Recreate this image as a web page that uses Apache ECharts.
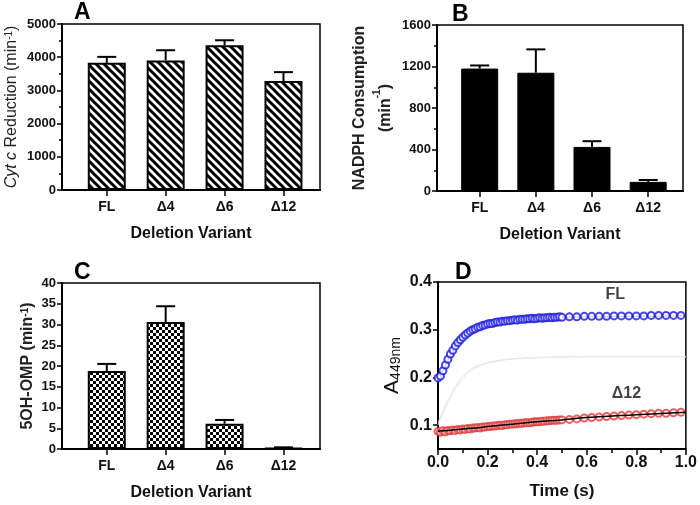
<!DOCTYPE html>
<html>
<head>
<meta charset="utf-8">
<script src="https://cdn.jsdelivr.net/npm/echarts@6/dist/echarts.min.js"></script>
<style>html,body{margin:0;padding:0;background:#fff}#c{width:700px;height:505px}</style>
</head>
<body>
<div id="c"></div>
<script>
// ---------- data ----------
const categories = ['FL', 'Δ4', 'Δ6', 'Δ12'];
const catPos = [1, 2, 3, 4];

const cytcMean = [3830, 3900, 4360, 3280];
const cytcErr = [180, 310, 150, 270];

const nadphMean = [1180, 1140, 425, 88];
const nadphErr = [30, 225, 55, 18];

const ohompMean = [18.8, 30.6, 6.1, 0.2];
const ohompErr = [1.7, 3.8, 0.9, 0.2];

const absTicks = [0.1, 0.2, 0.3, 0.4];

const tObs = [0.00,0.01,0.02,0.03,0.04,0.05,0.06,0.07,0.08,0.09,0.10,0.11,0.12,0.13,0.14,0.15,0.16,0.17,0.18,0.19,0.20,
  0.21,0.22,0.23,0.24,0.25,0.26,0.27,0.28,0.29,0.30,0.31,0.32,0.33,0.34,0.35,0.36,0.37,0.38,0.39,0.40,
  0.41,0.42,0.43,0.44,0.45,0.46,0.47,0.48,0.49,0.50,0.53,0.56,0.59,0.62,0.65,0.68,0.71,0.74,0.77,0.80,
  0.83,0.86,0.89,0.92,0.95,0.98];
const absFL = [0.199,0.203,0.214,0.226,0.238,0.249,0.257,0.266,0.273,0.279,0.284,0.289,0.293,0.297,0.300,0.302,0.305,0.306,0.309,0.310,0.312,
  0.313,0.313,0.315,0.316,0.316,0.318,0.318,0.319,0.319,0.320,0.321,0.320,0.322,0.322,0.322,0.323,0.323,0.324,0.323,0.324,
  0.325,0.324,0.325,0.325,0.326,0.325,0.326,0.326,0.327,0.326,0.327,0.327,0.328,0.328,0.328,0.328,0.329,0.329,0.329,0.329,
  0.329,0.330,0.330,0.330,0.330,0.330];
const absD12 = [0.087,0.085,0.088,0.086,0.089,0.088,0.090,0.089,0.091,0.090,0.092,0.091,0.093,0.092,0.094,0.094,0.095,0.094,0.096,0.096,0.097,
  0.097,0.098,0.098,0.099,0.100,0.099,0.101,0.101,0.102,0.102,0.103,0.103,0.104,0.104,0.105,0.105,0.105,0.106,0.107,0.107,
  0.107,0.108,0.108,0.109,0.109,0.110,0.110,0.110,0.111,0.111,0.112,0.113,0.115,0.116,0.117,0.118,0.119,0.120,0.121,0.122,
  0.123,0.124,0.125,0.125,0.126,0.127];

const tFit = [0, 0.02, 0.04, 0.06, 0.08, 0.10, 0.12, 0.15, 0.20, 0.25, 0.30, 0.40, 0.50, 0.60, 0.80, 1.00];
const fitFL = [0.200, 0.214, 0.237, 0.257, 0.273, 0.285, 0.294, 0.303, 0.312, 0.317, 0.320, 0.324, 0.326, 0.327, 0.328, 0.329];
const fitD12 = [0.087, 0.088, 0.089, 0.090, 0.091, 0.092, 0.093, 0.094, 0.097, 0.100, 0.102, 0.107, 0.111, 0.116, 0.122, 0.127];
const greyA = [0.105, 0.130, 0.152, 0.172, 0.189, 0.202, 0.212, 0.222, 0.231, 0.236, 0.239, 0.242, 0.243, 0.244, 0.244, 0.244];
const greyB = [0.100, 0.125, 0.147, 0.167, 0.184, 0.197, 0.208, 0.219, 0.229, 0.235, 0.238, 0.241, 0.242, 0.243, 0.243, 0.243];

const annotText = ['FL', 'Δ12'];
const annotT = [0.715, 0.76];
const annotV = [0.374, 0.166];

const panelLetters = ['A', 'B', 'C', 'D'];

// ---------- patterns ----------
function hatchPattern() {
  const c = document.createElement('canvas');
  c.width = 8; c.height = 8;
  const g = c.getContext('2d');
  g.fillStyle = '#fff'; g.fillRect(0, 0, 8, 8);
  g.strokeStyle = '#000'; g.lineWidth = 3; g.lineCap = 'square';
  for (const k of [-1, 0, 1]) { g.beginPath(); g.moveTo(k * 8, 0); g.lineTo(k * 8 + 8, 8); g.stroke(); }
  return c;
}
function checkPattern() {
  const c = document.createElement('canvas');
  c.width = 6; c.height = 6;
  const g = c.getContext('2d');
  g.fillStyle = '#fff'; g.fillRect(0, 0, 6, 6);
  g.fillStyle = '#000'; g.fillRect(0, 0, 3, 3); g.fillRect(3, 3, 3, 3);
  return c;
}

// ---------- helpers ----------
const FF = 'Arial, "Liberation Sans", Helvetica, sans-serif';
const axisLine = { show: true, onZero: false, lineStyle: { color: '#000', width: 2 } };
const axisTick = { show: true, length: 5, lineStyle: { color: '#000', width: 1.5 } };

function gridBox(left, top, width, height) {
  return { left, top, width, height, show: true, borderColor: '#000', borderWidth: 1.5, backgroundColor: 'transparent', containLabel: false };
}

function catXAxis(gi) {
  return {
    type: 'value', gridIndex: gi, min: 0.24, max: 4.62,
    axisLine, splitLine: { show: false },
    axisTick: Object.assign({}, axisTick, { length: 6, customValues: catPos }),
    axisLabel: { customValues: catPos, margin: 10, fontFamily: FF, fontWeight: 'bold', fontSize: 14, color: '#111',
      formatter: v => categories[Math.round(v) - 1] || '' },
    name: 'Deletion Variant', nameLocation: 'middle', nameGap: 36,
    nameTextStyle: { fontFamily: FF, fontWeight: 'bold', fontSize: 16, color: '#111' }
  };
}

function barSeries(gi, means, itemStyle, width) {
  return {
    type: 'bar', xAxisIndex: gi, yAxisIndex: gi, barWidth: width,
    data: means.map((m, i) => [catPos[i], m]),
    itemStyle, silent: true, z: 2
  };
}
function errSeries(gi, means, errs, cap) {
  return {
    type: 'custom', xAxisIndex: gi, yAxisIndex: gi, z: 3, silent: true,
    data: means.map((m, i) => [catPos[i], m, errs[i]]),
    encode: { x: 0, y: 1 },
    renderItem: function (params, api) {
      const x = api.value(0), y = api.value(1), e = api.value(2);
      const p0 = api.coord([x, y]);
      const p1 = api.coord([x, y + e]);
      const st = { stroke: '#000', lineWidth: 2 };
      return { type: 'group', children: [
        { type: 'line', shape: { x1: p0[0], y1: p0[1], x2: p1[0], y2: p1[1] }, style: st },
        { type: 'line', shape: { x1: p1[0] - cap / 2, y1: p1[1], x2: p1[0] + cap / 2, y2: p1[1] }, style: st }
      ]};
    }
  };
}

const yLabel = { fontFamily: FF, fontWeight: 'bold', fontSize: 13, color: '#111', margin: 6, formatter: v => String(v) };

const option = {
  animation: false,
  backgroundColor: '#fff',
  title: [
    { text: panelLetters[0], left: 74, top: 1, padding: 0, textStyle: { fontFamily: FF, fontWeight: 'bold', fontSize: 23, color: '#000' } },
    { text: panelLetters[1], left: 452, top: 3, padding: 0, textStyle: { fontFamily: FF, fontWeight: 'bold', fontSize: 23, color: '#000' } },
    { text: panelLetters[2], left: 74, top: 261, padding: 0, textStyle: { fontFamily: FF, fontWeight: 'bold', fontSize: 23, color: '#000' } },
    { text: panelLetters[3], left: 455, top: 261, padding: 0, textStyle: { fontFamily: FF, fontWeight: 'bold', fontSize: 23, color: '#000' } }
  ],
  grid: [
    gridBox(62, 24, 258, 166),
    gridBox(437, 25, 246, 166),
    gridBox(62, 283, 258, 166),
    gridBox(438, 282, 250, 167)
  ],
  xAxis: [
    catXAxis(0),
    catXAxis(1),
    catXAxis(2),
    {
      type: 'value', gridIndex: 3, min: 0, max: 1, interval: 0.2,
      axisLine, splitLine: { show: false },
      axisTick: Object.assign({}, axisTick, { length: 6 }),
      minorTick: { show: true, splitNumber: 2, length: 4, lineStyle: { color: '#000', width: 1.5 } },
      axisLabel: { margin: 6, fontFamily: FF, fontWeight: 'bold', fontSize: 16, color: '#111', formatter: v => v.toFixed(1) },
      name: 'Time (s)', nameLocation: 'middle', nameGap: 34,
      nameTextStyle: { fontFamily: FF, fontWeight: 'bold', fontSize: 17, color: '#111' }
    }
  ],
  yAxis: [
    {
      type: 'value', gridIndex: 0, min: 0, max: 5000, interval: 1000,
      axisLine, axisTick, splitLine: { show: false },
      minorTick: { show: true, splitNumber: 2, length: 3, lineStyle: { color: '#000', width: 1.5 } },
      axisLabel: yLabel,
      name: '{i|Cyt c} Reduction (min{s|-1})', nameLocation: 'middle', nameGap: 42,
      nameTextStyle: { fontFamily: FF, fontSize: 16, color: '#222',
        rich: { i: { fontFamily: FF, fontSize: 16, fontStyle: 'italic', color: '#222' },
                s: { fontFamily: FF, fontSize: 10, verticalAlign: 'top', color: '#222' } } }
    },
    {
      type: 'value', gridIndex: 1, min: 0, max: 1600, interval: 400,
      axisLine, axisTick, splitLine: { show: false },
      minorTick: { show: true, splitNumber: 2, length: 3, lineStyle: { color: '#000', width: 1.5 } },
      axisLabel: yLabel,
      name: 'NADPH Consumption\n(min{s|-1})', nameLocation: 'middle', nameGap: 35,
      nameTextStyle: { fontFamily: FF, fontSize: 16, fontWeight: 'bold', color: '#222', lineHeight: 26,
        rich: { s: { fontFamily: FF, fontSize: 10, fontWeight: 'bold', verticalAlign: 'top', color: '#222' } } }
    },
    {
      type: 'value', gridIndex: 2, min: 0, max: 40, interval: 5,
      axisLine, axisTick, splitLine: { show: false },
      axisLabel: yLabel,
      name: '5OH-OMP (min{s|-1})', nameLocation: 'middle', nameGap: 26,
      nameTextStyle: { fontFamily: FF, fontSize: 16, fontWeight: 'bold', color: '#222',
        rich: { s: { fontFamily: FF, fontSize: 10, fontWeight: 'bold', verticalAlign: 'top', color: '#222' } } }
    },
    {
      type: 'value', gridIndex: 3, min: 0.05, max: 0.4,
      axisLine, splitLine: { show: false },
      axisTick: Object.assign({}, axisTick, { customValues: absTicks }),
      axisLabel: { customValues: absTicks, margin: 6, fontFamily: FF, fontWeight: 'bold', fontSize: 16, color: '#111', formatter: v => v.toFixed(1) },
      name: '{a|A}{s|449nm}', nameLocation: 'middle', nameGap: 35,
      nameTextStyle: { fontFamily: FF, fontSize: 20, color: '#111',
        rich: { a: { fontFamily: FF, fontSize: 21, color: '#111', verticalAlign: 'top' }, s: { fontFamily: FF, fontSize: 14, color: '#111', verticalAlign: 'bottom' } } }
    }
  ],
  series: [
    barSeries(0, cytcMean, { color: { image: hatchPattern(), repeat: 'repeat' }, borderColor: '#000', borderWidth: 2 }, 38),
    errSeries(0, cytcMean, cytcErr, 19),
    barSeries(1, nadphMean, { color: '#000', borderColor: '#000', borderWidth: 1 }, 37),
    errSeries(1, nadphMean, nadphErr, 19),
    barSeries(2, ohompMean, { color: { image: checkPattern(), repeat: 'repeat' }, borderColor: '#000', borderWidth: 2 }, 38),
    errSeries(2, ohompMean, ohompErr, 19),
    { type: 'line', xAxisIndex: 3, yAxisIndex: 3, data: tFit.map((t, i) => [t, greyA[i]]), smooth: true, showSymbol: false, symbol: 'none',
      lineStyle: { color: '#e2e2e2', width: 1 }, z: 1, silent: true },
    { type: 'line', xAxisIndex: 3, yAxisIndex: 3, data: tFit.map((t, i) => [t, greyB[i]]), smooth: true, showSymbol: false, symbol: 'none',
      lineStyle: { color: '#ebebeb', width: 1 }, z: 1, silent: true },
    { type: 'line', xAxisIndex: 3, yAxisIndex: 3, data: tFit.map((t, i) => [t, fitFL[i]]), smooth: true, showSymbol: false, symbol: 'none',
      lineStyle: { color: '#0a0a80', width: 1.2 }, z: 2, silent: true },
    { type: 'scatter', xAxisIndex: 3, yAxisIndex: 3, data: tObs.map((t, i) => [t, absFL[i]]), symbol: 'emptyCircle', symbolSize: 7,
      itemStyle: { color: '#1a1ae0', borderWidth: 1.2 }, z: 3, silent: true },
    { type: 'scatter', xAxisIndex: 3, yAxisIndex: 3, data: tObs.map((t, i) => [t, absD12[i]]), symbol: 'emptyCircle', symbolSize: 7,
      itemStyle: { color: '#e23a3a', borderWidth: 1.2 }, z: 3, silent: true },
    { type: 'line', xAxisIndex: 3, yAxisIndex: 3, data: tFit.map((t, i) => [t, fitD12[i]]), smooth: true, showSymbol: false, symbol: 'none',
      lineStyle: { color: '#000', width: 1.5 }, z: 4, silent: true },
    { type: 'scatter', xAxisIndex: 3, yAxisIndex: 3, symbolSize: 0, silent: true, z: 5,
      data: annotText.map((s, i) => ({ name: s, value: [annotT[i], annotV[i]] })),
      label: { show: true, position: 'inside', formatter: p => p.name, fontFamily: FF, fontWeight: 'bold', fontSize: 16, color: '#111' } }
  ]
};

const chart = echarts.init(document.getElementById('c'), null, { renderer: 'canvas' });
chart.setOption(option);
</script>
</body>
</html>
